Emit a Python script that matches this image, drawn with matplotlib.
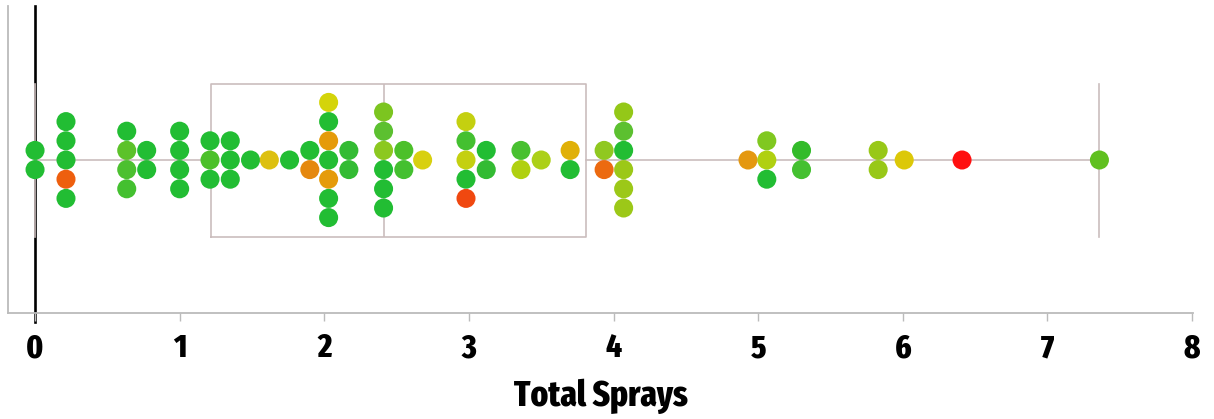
import numpy as np
import matplotlib
matplotlib.use("Agg")
import matplotlib.pyplot as plt

# one column per distinct x position, colours listed top to bottom
col_x = [0.0, 0.214, 0.634, 0.772, 1.0, 1.21, 1.35, 1.49, 1.62, 1.76, 1.90, 2.03, 2.17,
         2.41, 2.55, 2.68, 2.98, 3.12, 3.36, 3.50, 3.70, 3.935, 4.07, 4.93, 5.06, 5.30,
         5.83, 6.01, 6.41, 7.36]
G = '#22bd33'
col_colors = [
    [G, G],
    [G, G, G, '#ee5f0e', G],
    [G, '#5cc22a', '#4cc030', '#44c030'],
    [G, G],
    [G, G, G, G],
    [G, '#4cc02a', G],
    [G, G, G],
    [G],
    ['#ddc010'],
    [G],
    [G, '#e5880e'],
    ['#d4d40a', G, '#e59b0a', G, '#e59b0a', G, G],
    ['#33bb33', '#33bb33'],
    ['#7cc520', '#5cc030', '#8cc820', G, G, G],
    ['#4cc02a', '#44c030'],
    ['#d8d010'],
    ['#c4d010', '#44c030', '#c4d010', G, '#f04810'],
    [G, '#33bb33'],
    ['#48c030', '#b0d010'],
    ['#acd018'],
    ['#e0b008', G],
    ['#90c820', '#ec6a10'],
    ['#94c818', '#5cc030', G, '#9cc818', '#9cc818', '#9cc818'],
    ['#e49810'],
    ['#80c820', '#b0d010', G],
    ['#33bb2a', '#44c030'],
    ['#98c818', '#98c818'],
    ['#dcc808'],
    ['#ff1010'],
    ['#60c020'],
]

# box plot summary
box_stats = dict(whislo=0.0, q1=1.217, med=2.41, q3=3.81, whishi=7.36, fliers=[])

xticks = [0, 1, 2, 3, 4, 5, 6, 7, 8]
xlabel = "Total Sprays"

fnt = ['Fira Sans Extra Condensed', 'DejaVu Sans']

fig = plt.figure(figsize=(12.14, 4.19), dpi=100)
ax = fig.add_axes([8 / 1214, 1 - 313 / 419, 1185 / 1214, 307 / 419])

spacing = 19.2
xs, ys, cs = [], [], []
for x, cols in zip(col_x, col_colors):
    n = len(cols)
    offs = ((n - 1) / 2 - np.arange(n)) * spacing
    for o, c in zip(offs, cols):
        xs.append(x)
        ys.append(o)
        cs.append(c)

ax.axvline(0, ymin=-0.03, ymax=1, color='black', lw=1.9, zorder=1, clip_on=False)

bc = '#cbbdbd'
ax.bxp([box_stats], positions=[0], vert=False, widths=153, capwidths=153,
       showfliers=False, patch_artist=False,
       boxprops=dict(color=bc, lw=1.2),
       whiskerprops=dict(color=bc, lw=1.2),
       capprops=dict(color=bc, lw=1.2),
       medianprops=dict(color=bc, lw=1.2),
       zorder=2)

ax.scatter(xs, ys, s=188, c=cs, edgecolors='none', zorder=3)

ax.set_xlim(-0.187, 8.007)
ax.set_ylim(-153, 154)
ax.set_yticks([])
ax.set_xticks(xticks)
ax.set_xticklabels([str(t) for t in xticks], family=fnt, fontweight='heavy', fontsize=24)
ax.tick_params(axis='x', colors='#bbbbbb', length=6, width=1, pad=8, labelcolor='black')
ax.set_xlabel(xlabel, family=fnt, fontweight='heavy', fontsize=26, labelpad=10)

for s in ['top', 'right']:
    ax.spines[s].set_visible(False)
for s in ['left', 'bottom']:
    ax.spines[s].set_color('#bbbbbb')
    ax.spines[s].set_linewidth(1.3)

fig.savefig("out.png", dpi=100)
